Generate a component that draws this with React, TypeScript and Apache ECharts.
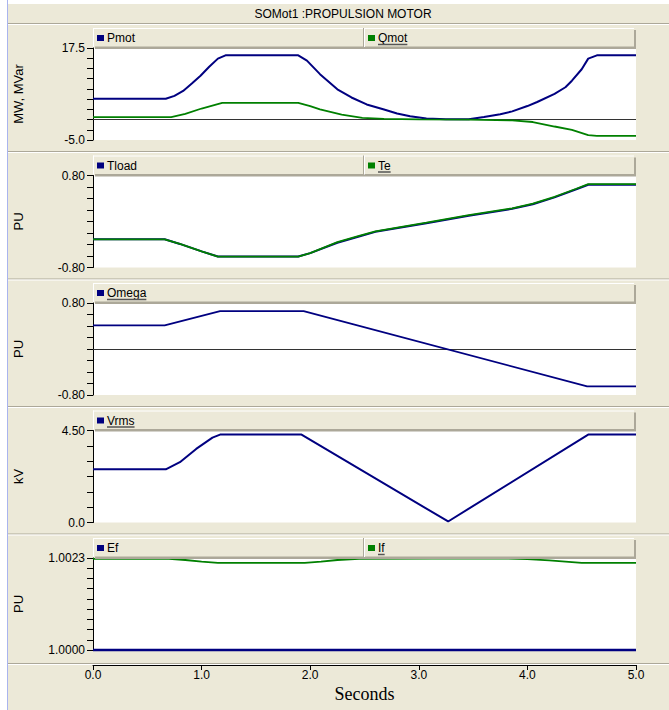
import React, { useEffect, useRef } from "react";
import * as echarts from "echarts";

// ---------- data ----------
const titleText = "SOMot1 :PROPULSION MOTOR";
const xTicks = [0, 1, 2, 3, 4, 5];

const pmotT = [0, 0.67, 0.75, 0.83, 0.91, 0.99, 1.07, 1.15, 1.22, 1.89, 1.97, 2.09, 2.25, 2.38, 2.52, 2.68, 2.8, 2.92, 3.07, 3.25, 3.46, 3.6, 3.75, 3.86, 4.0, 4.09, 4.25, 4.35, 4.41, 4.5, 4.56, 4.64, 5.0];
const pmotV = [5.1, 5.1, 5.8, 7.0, 8.8, 10.7, 12.9, 14.9, 15.7, 15.7, 14.4, 11.1, 7.4, 5.4, 3.7, 2.45, 1.5, 0.8, 0.25, 0.05, 0.1, 0.6, 1.3, 2.0, 3.3, 4.3, 6.3, 7.9, 9.5, 12.3, 14.9, 15.7, 15.7];
const qmotT = [0, 0.72, 0.85, 1.0, 1.19, 1.89, 2.0, 2.09, 2.29, 2.48, 2.68, 3.0, 3.46, 3.86, 4.05, 4.25, 4.41, 4.56, 4.64, 5.0];
const qmotV = [0.6, 0.6, 1.4, 2.7, 4.1, 4.1, 3.3, 2.5, 1.2, 0.4, 0.15, 0.05, 0.0, -0.2, -0.6, -1.7, -2.5, -3.8, -4.0, -4.0];

const tloadT = [0, 0.66, 0.8, 1.0, 1.15, 1.89, 2.0, 2.25, 2.45, 2.6, 3.07, 3.46, 3.86, 4.05, 4.25, 4.45, 4.56, 5.0];
const tloadV = [-0.31, -0.31, -0.39, -0.52, -0.61, -0.61, -0.55, -0.37, -0.26, -0.18, -0.03, 0.1, 0.22, 0.3, 0.42, 0.56, 0.64, 0.64];
const teT = [0, 0.66, 0.8, 1.0, 1.15, 1.89, 2.0, 2.25, 2.45, 2.6, 3.07, 3.46, 3.86, 4.05, 4.25, 4.45, 4.56, 5.0];
const teV = [-0.31, -0.31, -0.39, -0.52, -0.61, -0.61, -0.55, -0.36, -0.25, -0.17, -0.02, 0.11, 0.23, 0.31, 0.43, 0.57, 0.65, 0.65];

const omegaT = [0, 0.66, 1.17, 1.94, 4.55, 5.0];
const omegaV = [0.41, 0.41, 0.66, 0.66, -0.65, -0.65];

const vrmsT = [0, 0.67, 0.8, 0.95, 1.1, 1.17, 1.92, 3.27, 4.56, 5.0];
const vrmsV = [2.6, 2.6, 2.95, 3.6, 4.15, 4.3, 4.3, 0.05, 4.3, 4.3];

const efT = [0, 5.0];
const efV = [1.0, 1.0];
const ifT = [0, 0.7, 0.85, 1.0, 1.15, 1.95, 2.1, 2.25, 2.45, 3.8, 4.0, 4.2, 4.35, 4.5, 5.0];
const ifV = [1.00228, 1.00228, 1.00225, 1.00221, 1.00218, 1.00218, 1.00221, 1.00225, 1.00228, 1.00229, 1.00227, 1.00224, 1.00221, 1.00218, 1.00218];

const yMins = [-5.0, -0.8, -0.8, 0.0, 1.0];
const yMaxs = [17.5, 0.8, 0.8, 4.5, 1.0023];
const yTickCounts = [9, 8, 8, 6, 9];
const yNames = ["MW, MVar", "PU", "PU", "kV", "PU"];

// ---------- style ----------
const BEIGE = "#ECE9D8";
const SHADOW = "#ACA899";
const BLUE = "#000080";
const GREEN = "#008000";
const FONT = "Liberation Sans, Arial, sans-serif";

const PLOT_LEFT = 93;
const PLOT_W = 543;
const PLOT_TOP0 = 48;
const PLOT_H = 92;
const STEP = 127.5;

const zip = (t: number[], v: number[]) => t.map((x, i) => [x, v[i]]);

function textWidth(s: string, font: string) {
  const c = document.createElement("canvas").getContext("2d");
  if (!c) return s.length * 7;
  c.font = font;
  return c.measureText(s).width;
}

export default function App() {
  const ref = useRef<HTMLDivElement>(null);
  useEffect(() => {
    document.body.style.margin = "0";
    if (!ref.current) return;
    const chart = echarts.init(ref.current, undefined, { renderer: "svg" });

    const panels = [
      { items: [{ n: "Pmot", c: BLUE, u: false }, { n: "Qmot", c: GREEN, u: true }], div: true },
      { items: [{ n: "Tload", c: BLUE, u: false }, { n: "Te", c: GREEN, u: true }], div: true },
      { items: [{ n: "Omega", c: BLUE, u: true }], div: false },
      { items: [{ n: "Vrms", c: BLUE, u: true }], div: false },
      { items: [{ n: "Ef", c: BLUE, u: false }, { n: "If", c: GREEN, u: true }], div: true },
    ];
    const decimals = [1, 2, 2, 2, 4];

    const grids: any[] = [];
    const xAxes: any[] = [];
    const yAxes: any[] = [];
    const graphics: any[] = [];

    // outer frame
    graphics.push({ type: "rect", shape: { x: 0, y: 0, width: 669, height: 4 }, style: { fill: "#fff" }, z: 100 });
    graphics.push({ type: "rect", shape: { x: 0, y: 0, width: 7, height: 710 }, style: { fill: "#fff" }, z: 100 });
    graphics.push({ type: "line", shape: { x1: 7.5, y1: 0, x2: 7.5, y2: 710 }, style: { stroke: "#A9B4EE", lineWidth: 1 }, z: 101 });
    graphics.push({ type: "text", x: 343, y: 14, style: { text: titleText, font: `12px ${FONT}`, fill: "#000", align: "center", verticalAlign: "middle" }, z: 100 });
    graphics.push({ type: "line", shape: { x1: 8, y1: 23.5, x2: 669, y2: 23.5 }, style: { stroke: SHADOW, lineWidth: 1 }, z: 100 });
    graphics.push({ type: "line", shape: { x1: 8, y1: 24.5, x2: 669, y2: 24.5 }, style: { stroke: "#fff", lineWidth: 1 }, z: 100 });

    panels.forEach((p, k) => {
      const top = PLOT_TOP0 + STEP * k;
      const lt = top - 20;
      grids.push({ left: PLOT_LEFT, top, width: PLOT_W, height: PLOT_H, show: true, backgroundColor: "#fff", borderWidth: 0 });
      const last = k === panels.length - 1;
      xAxes.push({
        type: "value",
        gridIndex: k,
        min: 0,
        max: 5,
        interval: 1,
        show: last,
        offset: last ? 15 : 0,
        axisLine: { show: true, lineStyle: { color: "#000", width: 1 } },
        axisTick: { show: true, inside: false, length: 5, lineStyle: { color: "#000" } },
        axisLabel: { show: true, margin: 4, fontSize: 12, fontFamily: FONT, color: "#000", formatter: (v: number) => v.toFixed(1) },
        splitLine: { show: false },
        name: last ? "Seconds" : "",
        nameLocation: "middle",
        nameGap: 20,
        nameTextStyle: { fontFamily: "Liberation Serif, Times New Roman, serif", fontSize: 18, color: "#000" },
        data: xTicks,
      });
      const mn = yMins[k], mx = yMaxs[k], n = yTickCounts[k];
      const ticks: number[] = [];
      for (let i = 0; i <= n; i++) ticks.push(mn + ((mx - mn) * i) / n);
      yAxes.push({
        type: "value",
        gridIndex: k,
        min: mn,
        max: mx,
        axisLine: { show: true, lineStyle: { color: "#000", width: 1 } },
        axisTick: { show: true, length: 6, lineStyle: { color: "#000" }, customValues: ticks },
        axisLabel: {
          show: true,
          margin: 8,
          fontSize: 12,
          fontFamily: FONT,
          color: "#000",
          customValues: [mn, mx],
          formatter: (v: number) => (k === 3 && v === 0 ? "0.0" : v.toFixed(decimals[k])),
        },
        splitLine: { show: false },
        name: yNames[k],
        nameLocation: "middle",
        nameRotate: 90,
        nameGap: 68,
        nameTextStyle: { fontFamily: FONT, fontSize: 13, color: "#000" },
      });

      // legend bar
      graphics.push({ type: "rect", shape: { x: 95, y: lt + 2, width: 541, height: 19 }, style: { fill: SHADOW }, z: 50 });
      graphics.push({ type: "rect", shape: { x: 93, y: lt, width: 541, height: 18.5 }, style: { fill: BEIGE }, z: 51 });
      graphics.push({ type: "line", shape: { x1: 93, y1: lt + 0.5, x2: 634, y2: lt + 0.5 }, style: { stroke: "#fff", lineWidth: 1 }, z: 52 });
      graphics.push({ type: "line", shape: { x1: 93.5, y1: lt, x2: 93.5, y2: lt + 19 }, style: { stroke: "#fff", lineWidth: 1 }, z: 52 });
      if (p.div) {
        graphics.push({ type: "line", shape: { x1: 363.5, y1: lt, x2: 363.5, y2: lt + 19 }, style: { stroke: SHADOW, lineWidth: 1 }, z: 52 });
        graphics.push({ type: "line", shape: { x1: 364.5, y1: lt, x2: 364.5, y2: lt + 19 }, style: { stroke: "#fff", lineWidth: 1 }, z: 52 });
      }
      p.items.forEach((it, j) => {
        const mx0 = j === 0 ? 97 : 368;
        graphics.push({ type: "rect", shape: { x: mx0, y: lt + 7, width: 7, height: 6 }, style: { fill: it.c }, z: 53 });
        const font = `12px ${FONT}`;
        graphics.push({ type: "text", x: mx0 + 10, y: lt + 10, style: { text: it.n, font, fill: "#000", verticalAlign: "middle" }, z: 53 });
        if (it.u) {
          const w = textWidth(it.n, font);
          graphics.push({ type: "line", shape: { x1: mx0 + 10, y1: lt + 16.5, x2: mx0 + 10 + w, y2: lt + 16.5 }, style: { stroke: "#555", lineWidth: 1.5 }, z: 53 });
        }
      });

      // separator under panel
      const sy = top + PLOT_H + (last ? 13 : 11);
      graphics.push({ type: "line", shape: { x1: 8, y1: sy + 0.5, x2: 669, y2: sy + 0.5 }, style: { stroke: SHADOW, lineWidth: 1 }, z: 50 });
      graphics.push({ type: "line", shape: { x1: 8, y1: sy + 1.5, x2: 669, y2: sy + 1.5 }, style: { stroke: "#fff", lineWidth: 1 }, z: 50 });
    });

    const line = (name: string, k: number, t: number[], v: number[], color: string, width: number, zero = false) => ({
      name,
      type: "line",
      xAxisIndex: k,
      yAxisIndex: k,
      data: zip(t, v),
      showSymbol: false,
      symbol: "none",
      clip: false,
      lineStyle: { color, width },
      z: 5,
      markLine: zero
        ? {
            silent: true,
            symbol: "none",
            label: { show: false },
            lineStyle: { color: "#333", width: 1, type: "solid" },
            data: [{ yAxis: 0 }],
            z: 3,
          }
        : undefined,
    });

    const series = [
      line("Pmot", 0, pmotT, pmotV, BLUE, 2, true),
      line("Qmot", 0, qmotT, qmotV, GREEN, 1.8),
      line("Tload", 1, tloadT, tloadV, BLUE, 2),
      line("Te", 1, teT, teV, GREEN, 1.8),
      line("Omega", 2, omegaT, omegaV, BLUE, 1.8, true),
      line("Vrms", 3, vrmsT, vrmsV, BLUE, 2),
      line("Ef", 4, efT, efV, BLUE, 2.5),
      line("If", 4, ifT, ifV, GREEN, 1.8),
    ];

    chart.setOption({
      animation: false,
      backgroundColor: BEIGE,
      grid: grids,
      xAxis: xAxes,
      yAxis: yAxes,
      series,
      graphic: graphics,
    });
    return () => chart.dispose();
  }, []);
  return <div ref={ref} style={{ width: 669, height: 710, position: "absolute", left: 0, top: 0 }} />;
}
